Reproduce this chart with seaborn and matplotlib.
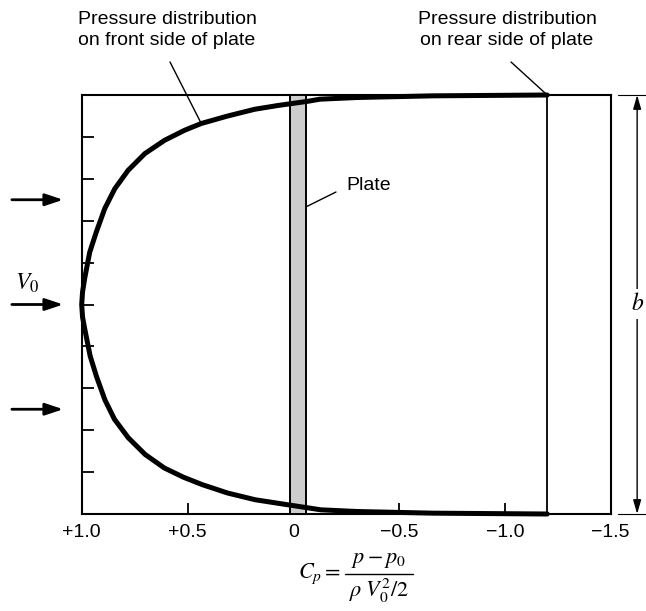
import matplotlib
matplotlib.use("Agg")
import matplotlib.pyplot as plt
import seaborn as sns
import numpy as np
import pandas as pd
from matplotlib import font_manager
from matplotlib.lines import Line2D

# ---------------- data ----------------
# spanwise position across the plate (0 = bottom edge, 1 = top edge, fraction of b)
span_frac = [0.000, 0.002, 0.006, 0.010, 0.020, 0.034, 0.050, 0.070, 0.088, 0.110,
             0.142, 0.182, 0.226, 0.272, 0.328, 0.377, 0.440, 0.470, 0.500, 0.530,
             0.562, 0.625, 0.673, 0.729, 0.776, 0.820, 0.860, 0.892, 0.916, 0.932,
             0.950, 0.966, 0.975, 0.985, 0.990, 0.994, 0.998, 1.000]
# pressure coefficient on the front side of the plate
cp_front = [-1.20, -0.66, -0.30, -0.13, 0.00, 0.18, 0.31, 0.43, 0.52, 0.61,
            0.70, 0.78, 0.845, 0.89, 0.93, 0.96, 0.985, 0.996, 1.000, 0.996,
            0.986, 0.962, 0.931, 0.891, 0.844, 0.781, 0.702, 0.608, 0.513, 0.435,
            0.309, 0.182, 0.072, -0.069, -0.126, -0.30, -0.66, -1.20]
# pressure coefficient on the rear side of the plate (uniform)
rear_cp = -1.2
# plate thickness in Cp-axis units (front face, rear face)
plate_cp = (0.015, -0.06)

x_ticks = [1.0, 0.5, 0.0, -0.5, -1.0, -1.5]
x_ticklabels = ["+1.0", "+0.5", "0", "\u22120.5", "\u22121.0", "\u22121.5"]
y_ticks = [0.1, 0.2, 0.3, 0.4, 0.5, 0.6, 0.7, 0.8, 0.9]
flow_arrow_y = [0.25, 0.5, 0.75]

# ---------------- style ----------------
sns.set_theme(style="white")
names = {f.name for f in font_manager.fontManager.ttflist}
fam = "Liberation Sans Narrow" if "Liberation Sans Narrow" in names else "Liberation Sans"
plt.rcParams["font.family"] = [fam, "DejaVu Sans"]
plt.rcParams["mathtext.fontset"] = "stix"
plt.rcParams["text.color"] = "black"
plt.rcParams["xtick.color"] = "black"
plt.rcParams["ytick.color"] = "black"
plt.rcParams["axes.edgecolor"] = "black"

W, H = 646, 611
fig = plt.figure(figsize=(W / 100, H / 100), dpi=100)
ax = fig.add_axes([81.7 / W, 1 - 514 / H, (610.7 - 81.7) / W, (514 - 95) / H])

df = pd.DataFrame({"Cp": cp_front, "span": span_frac})
sns.lineplot(data=df, x="Cp", y="span", orient="y", sort=False, estimator=None,
             color="black", lw=3.6, ax=ax, zorder=5, clip_on=False,
             solid_capstyle="round", solid_joinstyle="round")

# plate
ax.axvspan(plate_cp[1], plate_cp[0], facecolor="#cdcdcd", edgecolor="black",
           lw=1.4, zorder=3)
# rear side pressure
ax.axvline(rear_cp, color="black", lw=1.3, zorder=4)

ax.set_xlim(1.0, -1.5)
ax.set_ylim(0, 1)
ax.set_xlabel("")
ax.set_ylabel("")
ax.set_xticks(x_ticks, x_ticklabels)
ax.set_yticks(y_ticks, [])
ax.tick_params(axis="x", direction="in", length=8, width=1.3, labelsize=14,
               pad=7, bottom=True)
ax.tick_params(axis="y", direction="in", length=8.5, width=1.3, left=True)
for s in ax.spines.values():
    s.set_color("black")
    s.set_linewidth(1.5)

# annotations
fig.text(167 / W, 1 - 30 / H, "Pressure distribution\non front side of plate",
         ha="center", va="center", fontsize=14, linespacing=1.35)
fig.text(507 / W, 1 - 30 / H, "Pressure distribution\non rear side of plate",
         ha="center", va="center", fontsize=14, linespacing=1.35)
ax.annotate("", xy=(0.435, 0.932), xycoords="data",
            xytext=(170, H - 62), textcoords="figure pixels",
            arrowprops=dict(arrowstyle="-", lw=1, color="black",
                            shrinkA=0, shrinkB=0), annotation_clip=False)
ax.annotate("", xy=(rear_cp, 1.0), xycoords="data",
            xytext=(511, H - 62), textcoords="figure pixels",
            arrowprops=dict(arrowstyle="-", lw=1, color="black",
                            shrinkA=0, shrinkB=0), annotation_clip=False)
ax.text(346 / W, 1 - 185 / H, "Plate", transform=fig.transFigure,
        ha="left", va="center", fontsize=14)
ax.annotate("", xy=(plate_cp[1], 0.733), xycoords="data",
            xytext=(336, H - 192), textcoords="figure pixels",
            arrowprops=dict(arrowstyle="-", lw=1, color="black",
                            shrinkA=0, shrinkB=0), annotation_clip=False)

# flow arrows
for yy in flow_arrow_y:
    ax.annotate("", xy=(-0.035, yy), xytext=(-0.132, yy), xycoords="axes fraction",
                arrowprops=dict(arrowstyle="-|>,head_length=0.9,head_width=0.3",
                                lw=2, color="black", shrinkA=0, shrinkB=0),
                annotation_clip=False)
ax.text(-0.103, 0.551, r"$V_0$", transform=ax.transAxes, ha="center",
        va="center", fontsize=17)

# b dimension
ax.annotate("", xy=(1.05, 1.0), xytext=(1.05, 0.0), xycoords="axes fraction",
            arrowprops=dict(arrowstyle="<|-|>,head_length=0.7,head_width=0.2",
                            lw=1, color="black", shrinkA=0, shrinkB=0),
            annotation_clip=False)
for yy in (0.0, 1.0):
    ax.plot([1.014, 1.078], [yy, yy], transform=ax.transAxes, clip_on=False,
            lw=0.8, color="black")
ax.text(1.05, 0.501, r"$b$", transform=ax.transAxes, ha="center", va="center",
        fontsize=17, bbox=dict(fc="white", ec="none", pad=3))

# x-axis label (formula), built as C_p = numerator / denominator
bar_x0, bar_x1, bar_y = 345, 413, 574
fig.text((bar_x0 - 4) / W, 1 - bar_y / H, r"$C_p =$", ha="right", va="center",
         fontsize=16)
fig.add_artist(Line2D([bar_x0 / W, bar_x1 / W], [1 - bar_y / H, 1 - bar_y / H],
                      lw=1.0, color="black", transform=fig.transFigure))
fig.text((bar_x0 + bar_x1) / 2 / W, 1 - (bar_y - 4) / H, r"$p - p_0$",
         ha="center", va="bottom", fontsize=16)
fig.text((bar_x0 + bar_x1) / 2 / W, 1 - (bar_y + 3) / H, r"$\rho\;V_0^2/2$",
         ha="center", va="top", fontsize=16)

fig.savefig("out.png", dpi=100)
